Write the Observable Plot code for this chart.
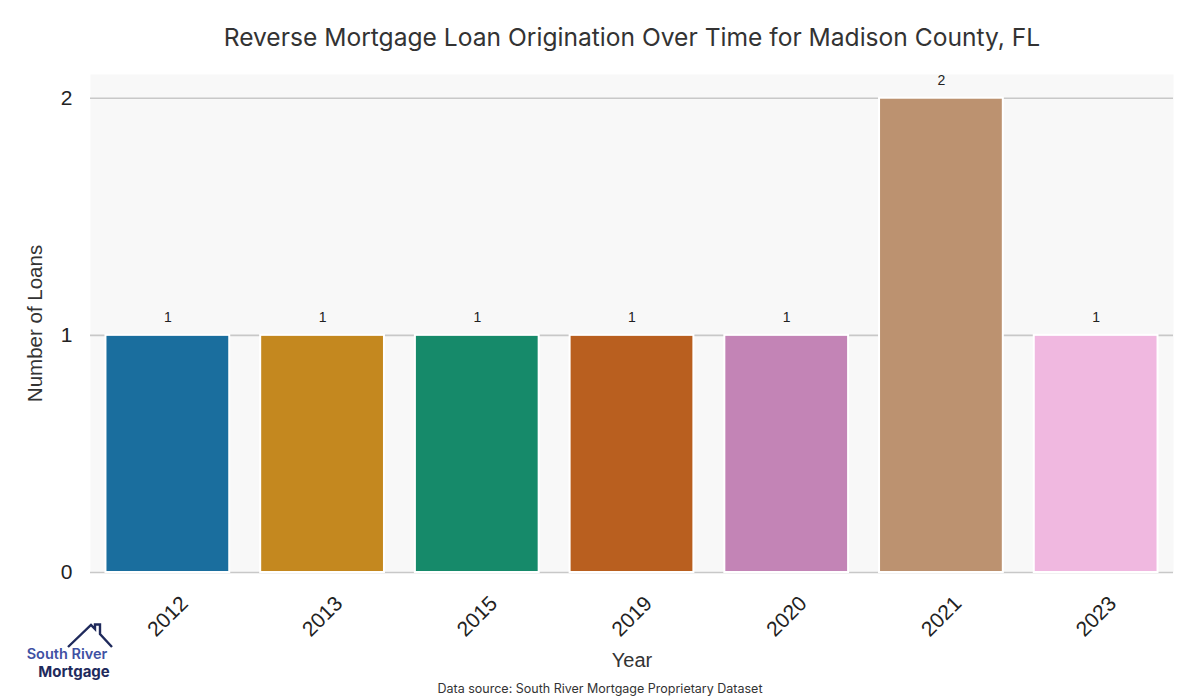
<!DOCTYPE html>
<html>
<head>
<meta charset="utf-8">
<script src="https://cdn.jsdelivr.net/npm/d3@7"></script>
<script src="https://cdn.jsdelivr.net/npm/@observablehq/plot@0.6"></script>
<style>
  html, body { margin: 0; padding: 0; background: #fff; }
  #wrap { position: relative; width: 1200px; height: 700px; overflow: hidden; }
  #title { position: absolute; left: 0; width: 1264px; top: 22px; text-align: center;
           font-family: Inter, "Open Sans", sans-serif; font-size: 24.6px; color: #333; }
  #xlabel { position: absolute; left: 0; width: 1264px; top: 649px; text-align: center;
            font-family: "Liberation Sans", Arial, sans-serif; font-size: 20px; color: #333; }
  #caption { position: absolute; left: 0; width: 1200px; top: 681px; text-align: center;
             font-family: Inter, "Open Sans", sans-serif; font-size: 12.5px; color: #333; }
  #logo { position: absolute; left: 20px; top: 620px; width: 100px; height: 62px; }
  #chart svg { display: block; }
</style>
</head>
<body>
<div id="wrap">
  <div id="chart"></div>
  <div id="title">Reverse Mortgage Loan Origination Over Time for Madison County, FL</div>
  <div id="xlabel">Year</div>
  <div id="caption">Data source: South River Mortgage Proprietary Dataset</div>
  <svg id="logo" viewBox="0 0 100 62" width="100" height="62">
    <path d="M48 27 L71 5 L75 9 L75 4.5 L80 4.5 L80 14 L92 27" fill="none" stroke="#1f2a5c" stroke-width="2.4" stroke-linejoin="miter"/>
    <text x="47" y="38.5" text-anchor="middle" font-family="Inter, sans-serif" font-weight="600" font-size="14.5" fill="#3f51a3">South River</text>
    <text x="54" y="56.5" text-anchor="middle" font-family="Inter, sans-serif" font-weight="700" font-size="15" fill="#1f2a5c">Mortgage</text>
  </svg>
</div>
<script>
const years = ["2012", "2013", "2015", "2019", "2020", "2021", "2023"];
const loans = [1, 1, 1, 1, 1, 2, 1];
const barColors = ["#1a6e9e", "#c4881f", "#168a6a", "#b95f1f", "#c384b6", "#bc9270", "#f0b8e0"];
const yTicks = [0, 1, 2];

const data = years.map((y, i) => ({year: y, loans: loans[i]}));

const chart = Plot.plot({
  width: 1200,
  height: 700,
  marginTop: 74,
  marginBottom: 128,
  marginLeft: 90,
  marginRight: 27,
  style: {background: "transparent", fontFamily: "'Liberation Sans', Arial, sans-serif", color: "#222"},
  x: {domain: years, paddingInner: 0.2, paddingOuter: 0.1, round: false, label: null},
  y: {domain: [0, 2.1], label: null},
  color: {domain: years, range: barColors},
  marks: [
    Plot.frame({fill: "#f8f8f8", stroke: null}),
    Plot.gridY(yTicks, {stroke: "#c8c8c8", strokeOpacity: 1, strokeWidth: 1.6}),
    Plot.barY(data, {x: "year", y: "loans", fill: "year", stroke: "white", strokeWidth: 2}),
    Plot.text(data, {x: "year", y: "loans", text: d => String(d.loans), dy: -18, fontSize: 14, fill: "#222"}),
    Plot.axisY(yTicks, {tickSize: 0, tickPadding: 18, fontSize: 21, tickFormat: d => String(d), label: null}),
    Plot.axisX({tickSize: 0, tickRotate: -45, textAnchor: "middle", lineAnchor: "middle", tickPadding: 44, fontSize: 21, label: null}),
    Plot.text(["Number of Loans"], {frameAnchor: "left", textAnchor: "middle", dx: -55, rotate: -90, fontSize: 20.5, fill: "#333", text: d => d})
  ]
});
document.getElementById("chart").appendChild(chart);
</script>
</body>
</html>
